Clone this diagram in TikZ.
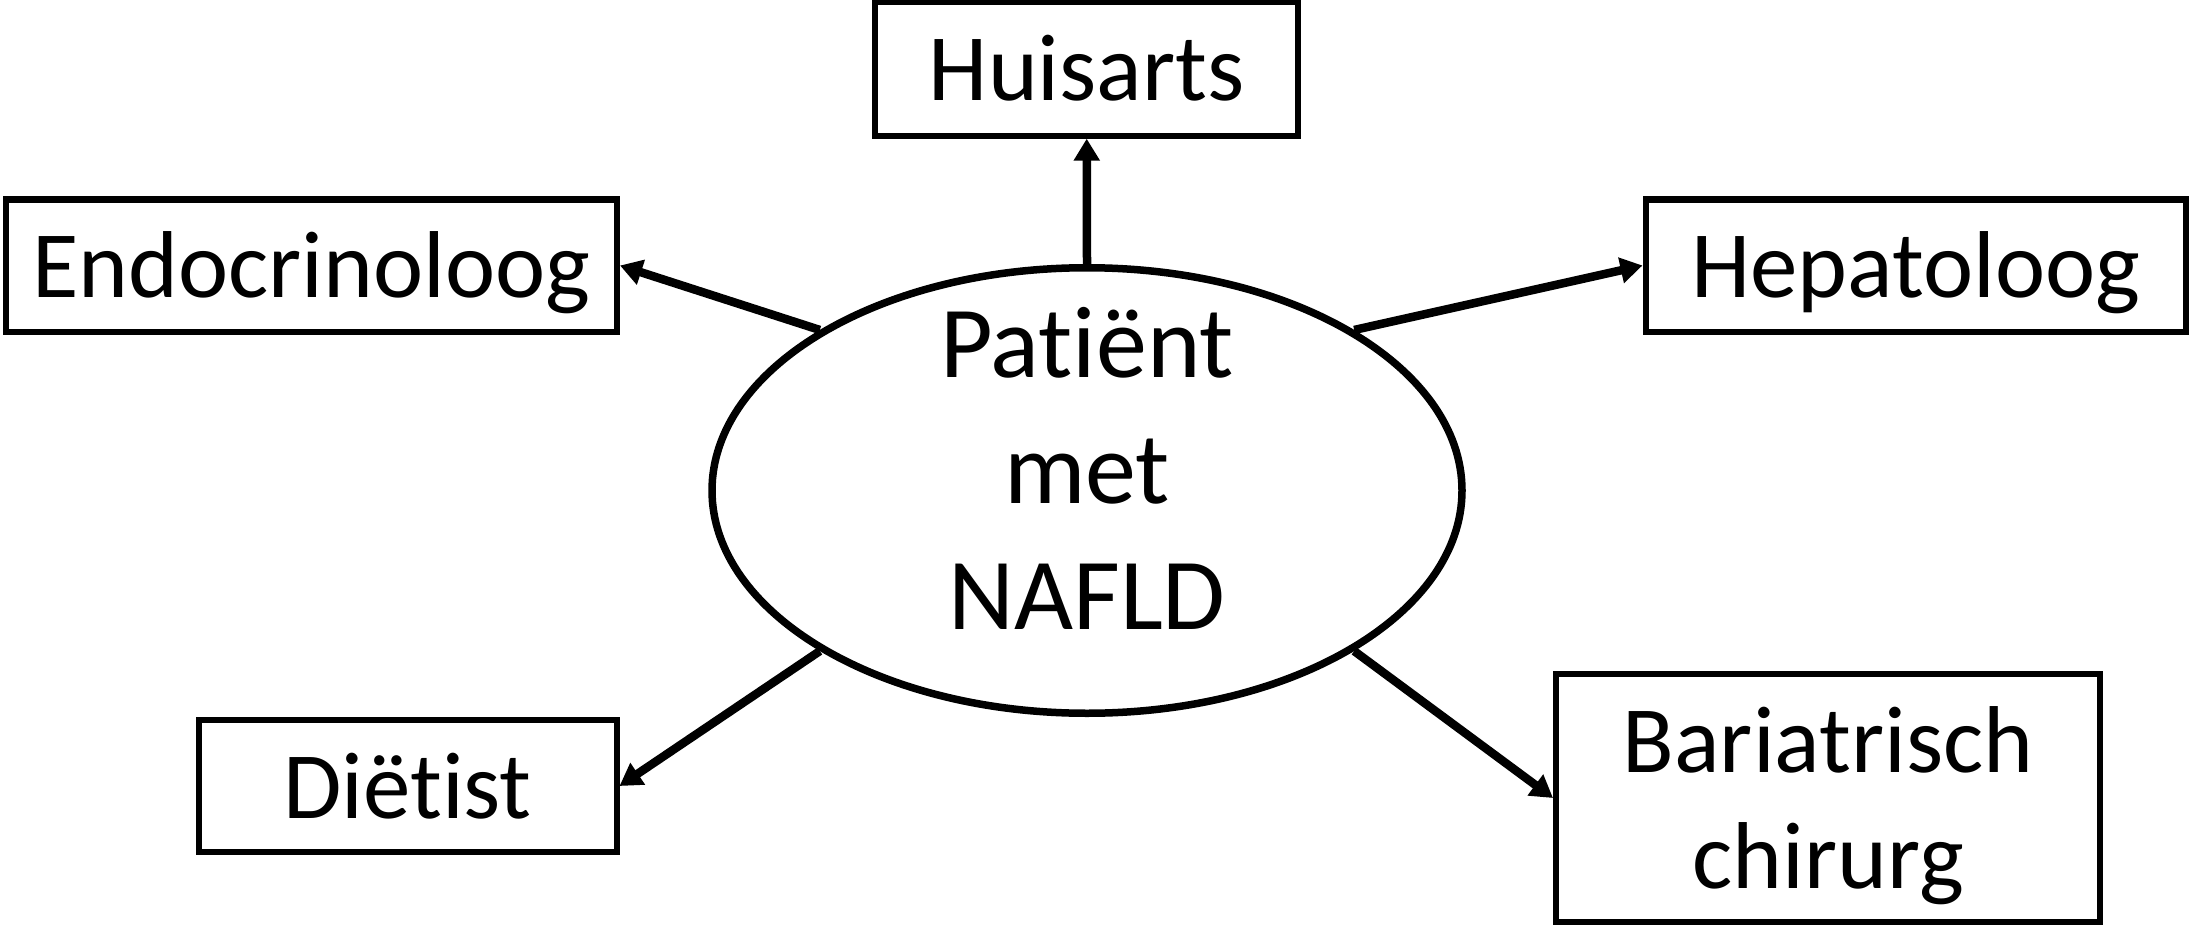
\documentclass[tikz,border=0pt]{standalone}
\usepackage{fontspec}
\setmainfont{Carlito}[Ligatures=NoCommon]
\usetikzlibrary{arrows.meta,shapes.geometric}
\begin{document}
\begin{tikzpicture}[x=1pt,y=-1pt,
  box/.style={draw, line width=6pt, inner sep=0pt, font=\fontsize{95}{116}\selectfont,
    text height=64pt, text depth=0pt, align=center},
  patient/.style={ellipse, draw, line width=7.5pt, inner sep=0pt, minimum width=750pt,
    minimum height=445.5pt, font=\fontsize{102}{126}\selectfont, align=center,
    text height=277pt, text depth=0pt},
  conn/.style={line width=8.5pt, -{Triangle[length=22pt,width=25pt]}}]
\useasboundingbox (0,0) rectangle (2191,928);
\node[patient] (ell) at (1087,490.5) {Patiënt\\met\\NAFLD};
\node[box, minimum width=423pt, minimum height=133.4pt] (huis) at (1086.7,69) {Huisarts};
\node[box, minimum width=611pt, minimum height=132pt] (endo) at (311.5,265.5) {Endocrinoloog};
\node[box, minimum width=540.5pt, minimum height=132pt] (hep) at (1915.75,265.5) {Hepatoloog};
\node[box, minimum width=418pt, minimum height=132pt] (diet) at (407.5,786) {Diëtist};
\node[box, minimum width=544pt, minimum height=248pt, text height=181pt] (bar) at (1828,798) {Bariatrisch\\chirurg};
\draw[conn] (ell.90) -- (huis.south);
\draw[conn] (ell.149) -- (endo.east);
\draw[conn] (ell.31) -- (hep.west);
\draw[conn] (ell.211) -- (diet.east);
\draw[conn] (ell.329) -- (bar.west);
\end{tikzpicture}
\end{document}
